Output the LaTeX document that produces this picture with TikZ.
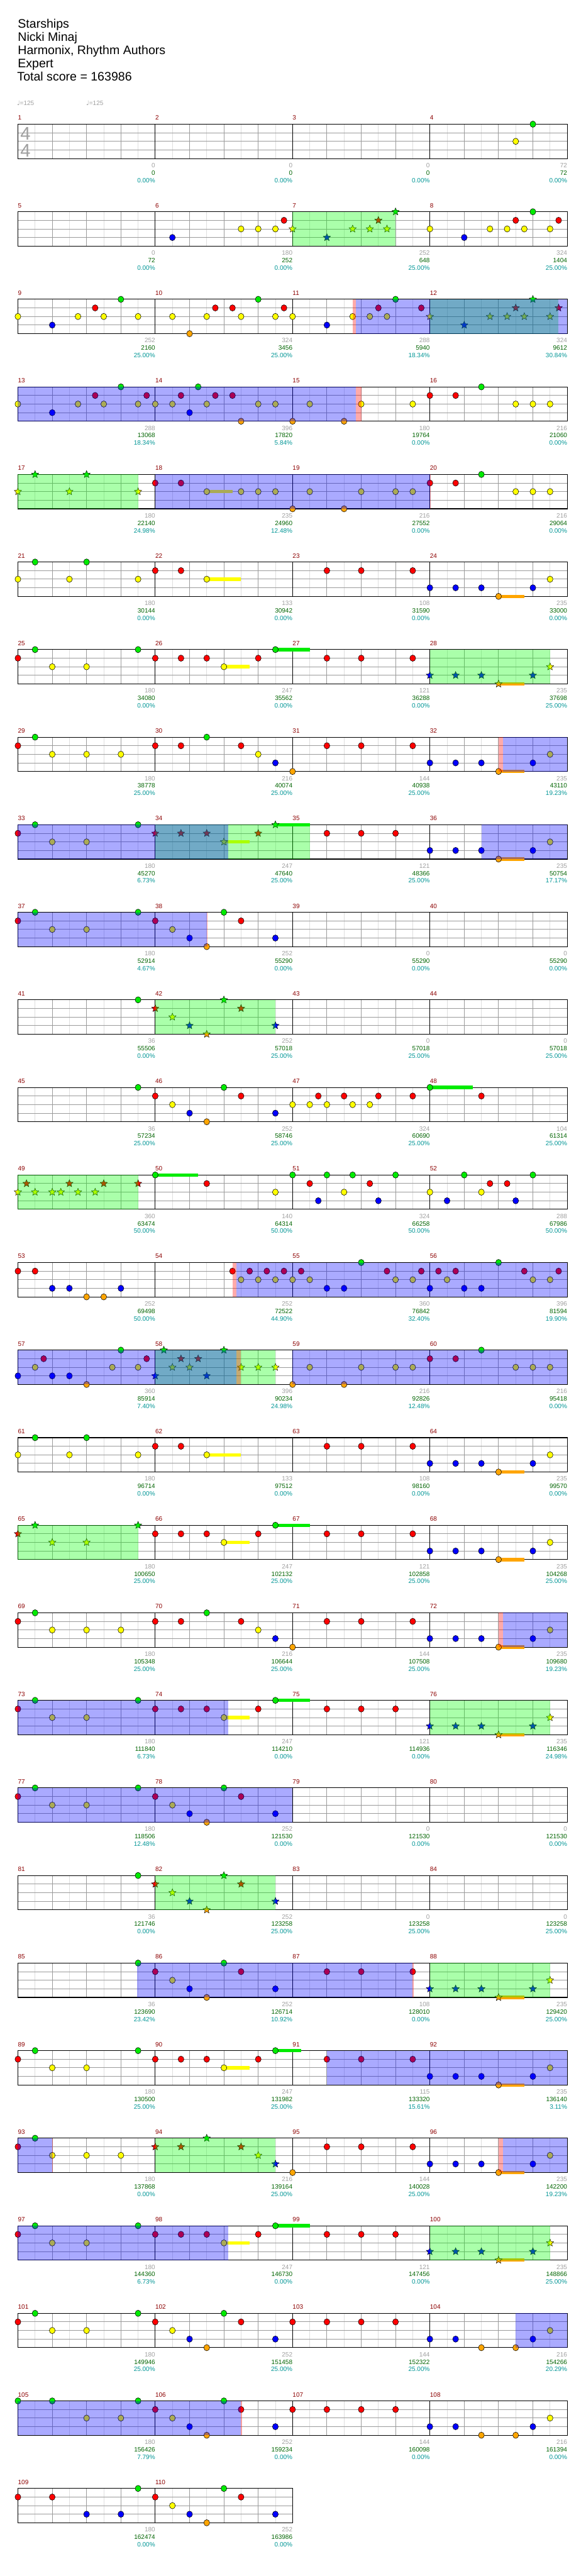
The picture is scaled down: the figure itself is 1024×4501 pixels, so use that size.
\documentclass[tikz,border=0pt]{standalone}
\usepackage{fontspec}
\setmainfont{Liberation Sans}
\newfontfamily\djv{DejaVu Sans}
\usetikzlibrary{shapes.geometric}
\definecolor{lc0}{RGB}{0,235,0}
\definecolor{lc1}{RGB}{255,0,0}
\definecolor{lc2}{RGB}{255,255,0}
\definecolor{lc3}{RGB}{0,0,255}
\definecolor{lc4}{RGB}{255,165,0}
\definecolor{mred}{RGB}{140,0,0}
\definecolor{sgray}{RGB}{160,160,160}
\definecolor{sgreen}{RGB}{0,100,0}
\definecolor{steal}{RGB}{0,150,150}
\definecolor{gridgray}{RGB}{155,155,155}
\definecolor{gridlight}{RGB}{222,222,222}
\definecolor{ovgreen}{RGB}{0,255,0}
\definecolor{ovblue}{RGB}{0,0,255}
\definecolor{ovpink}{RGB}{255,0,0}
\tikzset{
  gemline/.style={draw=black,line width=0.6pt},
  gemstar/.style={star,star points=5,star point ratio=2.25,minimum size=13.5pt,inner sep=0pt,draw=black,line width=0.5pt},
  titletext/.style={font=\fontsize{21.5}{24}\selectfont,inner sep=0pt,anchor=base west},
  mnum/.style={font=\fontsize{11}{13}\selectfont,text=mred,inner sep=0pt,anchor=west},
  scg/.style={font=\fontsize{11}{13}\selectfont,text=sgray,inner sep=0pt,anchor=east},
  scs/.style={font=\fontsize{11}{13}\selectfont,text=sgreen,inner sep=0pt,anchor=east},
  scp/.style={font=\fontsize{11}{13}\selectfont,text=steal,inner sep=0pt,anchor=east},
  tempo/.style={font=\fontsize{11}{13}\selectfont,text=sgray,inner sep=0pt,anchor=west},
  tsig/.style={font=\fontsize{32}{32}\selectfont,text=sgray,inner sep=0pt},
  lightline/.style={draw=gridlight,line width=1pt},
  beatline/.style={draw=gridgray,line width=1pt},
  laneline/.style={draw=gridgray,line width=1.1pt},
  barline/.style={draw=black,line width=1pt},
  border/.style={draw=black,line width=1.2pt}
}
\newcommand\staff[2]{%
  \pgfmathsetmacro\sT{217+153*#1}%
  \pgfmathtruncatemacro\sN{8*#2}%
  \pgfmathtruncatemacro\sNm{\sN-1}%
  \pgfmathsetmacro\sR{31.3+30*\sN}%
  \foreach \j in {1,3,...,\sNm}{\draw[lightline] ({31.3+30*\j},\sT) -- ({31.3+30*\j},{\sT+60});}
  \foreach \j in {2,4,...,\sN}{\draw[beatline] ({31.3+30*\j},\sT) -- ({31.3+30*\j},{\sT+60});}
  \foreach \k in {1,2,3}{\draw[laneline] (31.3,{\sT+15*\k}) -- (\sR,{\sT+15*\k});}
  \foreach \j in {8,16,...,\sN}{\draw[barline] ({31.3+30*\j},\sT) -- ({31.3+30*\j},{\sT+60});}
  \draw[border] (31.3,\sT) rectangle (\sR,{\sT+60});
}
\newcommand\gemC[2]{\foreach \gp/\gl in {#2}{\draw[gemline,fill=lc\gl] ({31.3+30*\gp},{217+153*#1+15*\gl}) ellipse [x radius=5.1pt,y radius=5.5pt];}}
\newcommand\gemS[2]{\foreach \gp/\gl in {#2}{\node[gemstar,fill=lc\gl] at ({31.3+30*\gp},{217+153*#1+15*\gl}) {};}}
\newcommand\gemB[2]{\foreach \gp/\gl/\gn in {#2}{\fill[lc\gl] ({31.3+30*\gp},{217+153*#1+15*\gl-3}) rectangle ({31.3+30*(\gp+\gn)},{217+153*#1+15*\gl+3});}}
\newcommand\ovl[4]{\fill[#4,opacity=0.333] ({31.3+30*#2},{217+153*#1}) rectangle ({31.3+30*#3},{217+153*#1+60});}
\begin{document}
\begin{tikzpicture}[x=1pt,y=-1pt]
\fill[white] (0,0) rectangle (1024,4501);
\useasboundingbox (0,0) rectangle (1024,4501);
% header
\node[titletext] (t1) at (31,49) {Starships};
\node[titletext] (t2) at (31,72) {Nicki Minaj};
\node[titletext] (t3) at (31,95) {Harmonix, Rhythm Authors};
\node[titletext] (t4) at (31,118) {Expert};
\node[titletext] (t5) at (30,141) {Total score = 163986};
\node[tempo] (tp1) at (29.5,180) {{\djv ♩}=125};
\node[tempo] (tp2) at (150.5,180) {{\djv ♩}=125};
% staves
\foreach \r in {0,...,26}{\staff{\r}{4}}
\staff{27}{2}
\node[tsig] (ts1) at (44.5,233.5) {4};
\node[tsig] (ts2) at (44.5,263.5) {4};
% bars
\gemB{4}{11/2/1.5}
\gemB{5}{11/2/2, 28/4/1.5}
\gemB{6}{12/2/1.5, 15/0/2, 28/4/1.5}
\gemB{7}{28/4/1.5}
\gemB{8}{12/2/1.5, 15/0/2, 28/4/1.5}
\gemB{11}{24/0/2.5}
\gemB{12}{8/0/2.5}
\gemB{15}{11/2/2, 28/4/1.5}
\gemB{16}{12/2/1.5, 15/0/2, 28/4/1.5}
\gemB{17}{28/4/1.5}
\gemB{18}{12/2/1.5, 15/0/2, 28/4/1.5}
\gemB{21}{28/4/1.5}
\gemB{22}{12/2/1.5, 15/0/1.5, 28/4/1.5}
\gemB{23}{28/4/1.5}
\gemB{24}{12/2/1.5, 15/0/2, 28/4/1.5}
% gems
\gemC{0}{30/0, 29/2}
\gemC{1}{9/3, 13/2, 14/2, 15/2, 15.5/1, 24/2, 26/3, 27.5/2, 28.5/2, 29.5/2, 31/2, 29/1, 31.5/1, 30/0}
\gemS{1}{16/2, 18/3, 19.5/2, 20.5/2, 21.5/2, 21/1, 22/0}
\gemC{2}{0/2, 2/3, 3.5/2, 4.5/1, 5/2, 6/0, 7/2, 9/2, 10/4, 11/2, 11.5/1, 12.5/1, 13/2, 14/0, 15/2, 15.5/1, 16/2, 18/3, 19.5/2, 20.5/2, 21.5/2, 21/1, 22/0, 23.5/1}
\gemS{2}{24/2, 26/3, 27.5/2, 28.5/2, 29.5/2, 31/2, 29/1, 31.5/1, 30/0}
\gemC{3}{0/2, 2/3, 3.5/2, 4.5/1, 5/2, 6/0, 7/2, 7.5/1, 8/2, 9/2, 9.5/1, 10/3, 10.5/0, 11/2, 11.5/1, 12.5/1, 13/4, 14/2, 15/2, 16/4, 17/2, 19/4, 20/2, 23/2, 24/1, 25.5/1, 27/0, 29/2, 30/2, 31/2}
\gemS{4}{1/0, 4/0, 0/2, 3/2, 7/2}
\gemC{4}{8/1, 9.5/1, 11/2, 13/2, 14/2, 15/2, 17/2, 20/2, 22/2, 23/2, 16/4, 19/4, 24/1, 25.5/1, 27/0, 29/2, 30/2, 31/2}
\gemC{5}{0/2, 1/0, 3/2, 4/0, 7/2, 8/1, 9.5/1, 11/2, 18/1, 20/1, 23/1, 24/3, 25.5/3, 27/3, 30/3, 28/4, 31/2}
\gemC{6}{0/1, 1/0, 2/2, 4/2, 7/0, 8/1, 9.5/1, 11/1, 14/1, 12/2, 15/0, 18/1, 20/1, 23/1}
\gemS{6}{24/3, 25.5/3, 27/3, 30/3, 28/4, 31/2}
\gemC{7}{0/1, 1/0, 2/2, 4/2, 6/2, 8/1, 9.5/1, 11/0, 13/1, 14/2, 15/3, 16/4, 18/1, 20/1, 23/1, 24/3, 25.5/3, 27/3, 30/3, 28/4, 31/2}
\gemC{8}{0/1, 1/0, 2/2, 4/2, 7/0, 18/1, 20/1, 22/1, 24/3, 25.5/3, 27/3, 30/3, 28/4, 31/2}
\gemS{8}{8/1, 9.5/1, 11/1, 12/2, 14/1, 15/0}
\gemC{9}{0/1, 1/0, 2/2, 4/2, 7/0, 8/1, 9/2, 10/3, 11/4, 12/0, 13/1, 15/3}
\gemC{10}{7/0}
\gemS{10}{8/1, 9/2, 10/3, 11/4, 12/0, 13/1, 15/3}
\gemC{11}{7/0, 8/1, 9/2, 10/3, 11/4, 12/0, 13/1, 15/3, 16/2, 17/2, 18/2, 19.5/2, 20.5/2, 17.5/1, 19/1, 21/1, 23/1, 24/0, 27/1}
\gemS{12}{0.5/1, 3/1, 5/1, 7/1, 0/2, 1/2, 2/2, 2.5/2, 3.5/2, 4.5/2}
\gemC{12}{8/0, 11/1, 15/2, 16/0, 17/1, 17.5/3, 18/0, 19/2, 19.5/0, 20.5/1, 21/3, 22/0, 24/2, 25/3, 26/0, 27/2, 27.5/1, 28.5/1, 29/3, 30/0}
\gemC{13}{0/1, 1/1, 2/3, 3/3, 6/3, 4/4, 5/4, 12.5/1, 13.5/1, 14.5/1, 15.5/1, 16.5/1, 21.5/1, 23.5/1, 24.5/1, 25.5/1, 29.5/1, 31.5/1, 13/2, 14/2, 15/2, 16/2, 17/2, 22/2, 23/2, 25/2, 30/2, 31/2, 18/3, 19/3, 24/3, 26/3, 27/3, 20/0, 28/0}
\gemC{14}{0/3, 1/2, 1.5/1, 2/3, 3/3, 4/4, 5.5/2, 6/0, 7/2, 7.5/1, 16/4, 17/2, 20/2, 22/2, 23/2, 29/2, 30/2, 31/2, 19/4, 24/1, 25.5/1, 27/0}
\gemS{14}{8.5/0, 9.5/1, 10.5/1, 9/2, 10/2, 8/3, 11/3, 12/0, 13/2, 14/2, 15/2}
\gemC{15}{0/2, 1/0, 3/2, 4/0, 7/2, 8/1, 9.5/1, 11/2, 18/1, 20/1, 23/1, 24/3, 25.5/3, 27/3, 30/3, 28/4, 31/2}
\gemS{16}{0/1, 1/0, 7/0, 2/2, 4/2}
\gemC{16}{8/1, 9.5/1, 11/1, 14/1, 12/2, 15/0, 18/1, 20/1, 23/1, 24/3, 25.5/3, 27/3, 30/3, 28/4, 31/2}
\gemC{17}{0/1, 1/0, 2/2, 4/2, 6/2, 8/1, 9.5/1, 11/0, 13/1, 14/2, 15/3, 16/4, 18/1, 20/1, 23/1, 24/3, 25.5/3, 27/3, 30/3, 28/4, 31/2}
\gemC{18}{0/1, 1/0, 2/2, 4/2, 7/0, 8/1, 9.5/1, 11/1, 14/1, 12/2, 15/0, 18/1, 20/1, 22/1}
\gemS{18}{24/3, 25.5/3, 27/3, 30/3, 28/4, 31/2}
\gemC{19}{0/1, 1/0, 2/2, 4/2, 7/0, 8/1, 9/2, 10/3, 11/4, 12/0, 13/1, 15/3}
\gemC{20}{7/0}
\gemS{20}{8/1, 9/2, 10/3, 11/4, 12/0, 13/1, 15/3}
\gemC{21}{7/0, 8/1, 9/2, 10/3, 11/4, 12/0, 13/1, 15/3, 18/1, 20/1, 23/1}
\gemS{21}{24/3, 25.5/3, 27/3, 30/3, 28/4, 31/2}
\gemC{22}{0/1, 1/0, 2/2, 4/2, 7/0, 8/1, 9.5/1, 11/1, 14/1, 12/2, 15/0, 18/1, 20/1, 23/1, 24/3, 25.5/3, 27/3, 30/3, 28/4, 31/2}
\gemC{23}{0/1, 1/0, 2/2, 4/2, 6/2, 16/4, 18/1, 20/1, 23/1, 24/3, 25.5/3, 27/3, 30/3, 28/4, 31/2}
\gemS{23}{8/1, 9.5/1, 13/1, 11/0, 14/2, 15/3}
\gemC{24}{0/1, 1/0, 2/2, 4/2, 7/0, 8/1, 9.5/1, 11/1, 14/1, 12/2, 15/0, 18/1, 20/1, 22/1}
\gemS{24}{24/3, 25.5/3, 27/3, 30/3, 28/4, 31/2}
\gemC{25}{0/1, 1/0, 2/2, 4/2, 7/0, 8/1, 9/2, 10/3, 11/4, 12/0, 13/1, 15/3, 16/1, 18/1, 20/1, 22/1, 24/3, 25.5/3, 27/4, 29/4, 30/3, 31/2}
\gemC{26}{0/0, 2/0, 7/0, 12/0, 4/2, 6/2, 9/2, 8/1, 13/1, 10/3, 15/3, 11/4, 16/1, 18/1, 20/1, 22/1, 24/3, 25.5/3, 30/3, 27/4, 29/4, 31/2}
\gemC{27}{0/1, 2/1, 4/3, 6/3, 7/0, 8/1, 9/2, 10/3, 11/4, 12/0, 13/1, 15/3}
% star power phrases (green)
\ovl{1}{16}{22}{ovgreen}
\ovl{2}{24}{31.5}{ovgreen}
\ovl{4}{0}{7}{ovgreen}
\ovl{6}{24}{31}{ovgreen}
\ovl{8}{8}{17}{ovgreen}
\ovl{10}{8}{15}{ovgreen}
\ovl{12}{0}{7}{ovgreen}
\ovl{14}{8}{15}{ovgreen}
\ovl{16}{0}{7}{ovgreen}
\ovl{18}{24}{31}{ovgreen}
\ovl{20}{8}{15}{ovgreen}
\ovl{21}{24}{31}{ovgreen}
\ovl{23}{8}{15}{ovgreen}
\ovl{24}{24}{31}{ovgreen}
% activation points (pink)
\ovl{2}{19.5}{19.7}{ovpink}
\ovl{3}{19.7}{20}{ovpink}
\ovl{4}{24}{24.05}{ovpink}
\ovl{7}{28}{28.27}{ovpink}
\ovl{9}{11}{11.05}{ovpink}
\ovl{13}{12.5}{12.72}{ovpink}
\ovl{14}{12.72}{13}{ovpink}
\ovl{17}{28}{28.27}{ovpink}
\ovl{21}{23}{23.05}{ovpink}
\ovl{23}{2}{2.05}{ovpink}
\ovl{23}{28}{28.27}{ovpink}
\ovl{26}{13}{13.05}{ovpink}
% overdrive (blue)
\ovl{2}{19.7}{32}{ovblue}
\ovl{3}{0}{19.7}{ovblue}
\ovl{4}{8}{24}{ovblue}
\ovl{7}{28.27}{32}{ovblue}
\ovl{8}{0}{12.25}{ovblue}
\ovl{8}{27}{32}{ovblue}
\ovl{9}{0}{11}{ovblue}
\ovl{13}{12.72}{32}{ovblue}
\ovl{14}{0}{12.72}{ovblue}
\ovl{14}{16}{32}{ovblue}
\ovl{17}{28.27}{32}{ovblue}
\ovl{18}{0}{12.25}{ovblue}
\ovl{19}{0}{16}{ovblue}
\ovl{21}{6.95}{23}{ovblue}
\ovl{22}{18}{32}{ovblue}
\ovl{23}{0}{2}{ovblue}
\ovl{23}{28.27}{32}{ovblue}
\ovl{24}{0}{12.25}{ovblue}
\ovl{25}{29}{32}{ovblue}
\ovl{26}{0}{13}{ovblue}
% measure numbers and scores
\foreach \vm/\vg/\vs/\vp in {1/0/0/0.00, 2/0/0/0.00, 3/0/0/0.00, 4/72/72/0.00,
5/0/72/0.00, 6/180/252/0.00, 7/252/648/25.00, 8/324/1404/25.00,
9/252/2160/25.00, 10/324/3456/25.00, 11/288/5940/18.34, 12/324/9612/30.84,
13/288/13068/18.34, 14/396/17820/5.84, 15/180/19764/0.00, 16/216/21060/0.00,
17/180/22140/24.98, 18/235/24960/12.48, 19/216/27552/0.00, 20/216/29064/0.00,
21/180/30144/0.00, 22/133/30942/0.00, 23/108/31590/0.00, 24/235/33000/0.00,
25/180/34080/0.00, 26/247/35562/0.00, 27/121/36288/0.00, 28/235/37698/25.00,
29/180/38778/25.00, 30/216/40074/25.00, 31/144/40938/25.00, 32/235/43110/19.23,
33/180/45270/6.73, 34/247/47640/25.00, 35/121/48366/25.00, 36/235/50754/17.17,
37/180/52914/4.67, 38/252/55290/0.00, 39/0/55290/0.00, 40/0/55290/0.00,
41/36/55506/0.00, 42/252/57018/25.00, 43/0/57018/25.00, 44/0/57018/25.00,
45/36/57234/25.00, 46/252/58746/25.00, 47/324/60690/25.00, 48/104/61314/25.00,
49/360/63474/50.00, 50/140/64314/50.00, 51/324/66258/50.00, 52/288/67986/50.00,
53/252/69498/50.00, 54/252/72522/44.90, 55/360/76842/32.40, 56/396/81594/19.90,
57/360/85914/7.40, 58/396/90234/24.98, 59/216/92826/12.48, 60/216/95418/0.00,
61/180/96714/0.00, 62/133/97512/0.00, 63/108/98160/0.00, 64/235/99570/0.00,
65/180/100650/25.00, 66/247/102132/25.00, 67/121/102858/25.00, 68/235/104268/25.00,
69/180/105348/25.00, 70/216/106644/25.00, 71/144/107508/25.00, 72/235/109680/19.23,
73/180/111840/6.73, 74/247/114210/0.00, 75/121/114936/0.00, 76/235/116346/24.98,
77/180/118506/12.48, 78/252/121530/0.00, 79/0/121530/0.00, 80/0/121530/0.00,
81/36/121746/0.00, 82/252/123258/25.00, 83/0/123258/25.00, 84/0/123258/25.00,
85/36/123690/23.42, 86/252/126714/10.92, 87/108/128010/0.00, 88/235/129420/25.00,
89/180/130500/25.00, 90/247/131982/25.00, 91/115/133320/15.61, 92/235/136140/3.11,
93/180/137868/0.00, 94/216/139164/25.00, 95/144/140028/25.00, 96/235/142200/19.23,
97/180/144360/6.73, 98/247/146730/0.00, 99/121/147456/0.00, 100/235/148866/25.00,
101/180/149946/25.00, 102/252/151458/25.00, 103/144/152322/25.00, 104/216/154266/20.29,
105/180/156426/7.79, 106/252/159234/0.00, 107/144/160098/0.00, 108/216/161394/0.00,
109/180/162474/0.00, 110/252/163986/0.00}{
  \pgfmathtruncatemacro\rr{(\vm-1)/4}
  \pgfmathtruncatemacro\cc{\vm-1-4*\rr}
  \pgfmathsetmacro\xs{31.3+240*\cc}
  \pgfmathsetmacro\xe{\xs+240}
  \pgfmathsetmacro\yT{217+153*\rr}
  \node[mnum] (mn\vm) at (\xs,{\yT-11}) {\vm};
  \node[scg] (sg\vm) at (\xe,{\yT+72}) {\vg};
  \node[scs] (ss\vm) at (\xe,{\yT+85}) {\vs};
  \node[scp] (sp\vm) at (\xe,{\yT+98}) {\vp\%};
}
\end{tikzpicture}
\end{document}
